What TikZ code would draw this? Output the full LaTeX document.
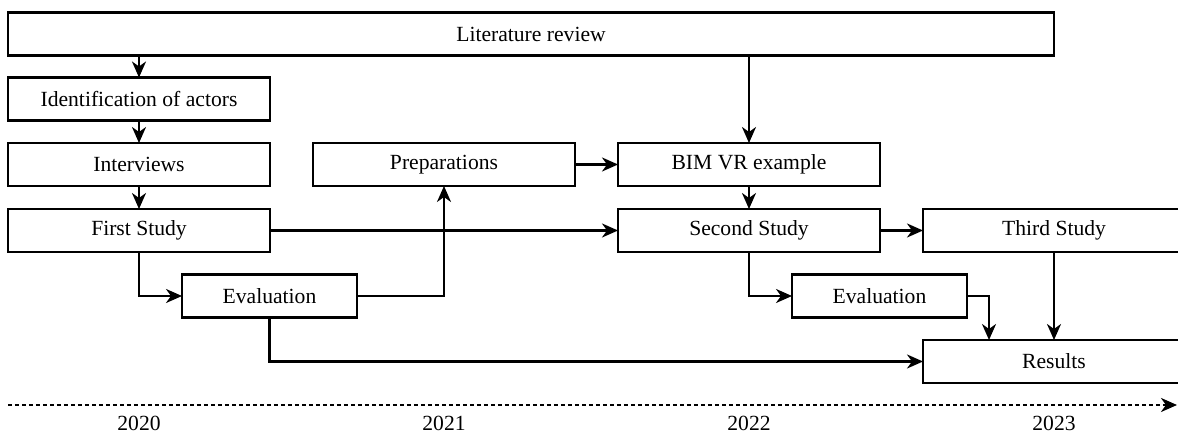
\documentclass[tikz,border=0pt]{standalone}
\usepackage{fontspec}
\setmainfont{Liberation Serif}
\usetikzlibrary{arrows.meta}

\tikzset{
  box/.style={draw, line width=1.3pt, minimum width=5.24cm, minimum height=0.86cm,
    inner sep=0pt, outer sep=0pt, font=\fontsize{12.3}{14}\selectfont},
  evalbox/.style={box, minimum width=3.5cm},
  arr/.style={-{Stealth[length=0.32cm,width=0.28cm,inset=0.1cm]}, line width=1.3pt},
  timeline/.style={arr, dash pattern=on 0.09cm off 0.05cm, line width=1.5pt},
  year/.style={font=\fontsize{12.3}{14}\selectfont}
}

\begin{document}
\begin{tikzpicture}[x=0.02cm, y=-0.02cm]

  \useasboundingbox (0,0) rectangle (1178,435);

  % --- literature review ---
  \node[box, minimum width=20.92cm] (lit) at (531,34) {Literature review};

  % --- first column ---
  \node[box] (ident)  at (139,99)    {Identification of actors};
  \node[box] (interv) at (139,164.5) {Interviews};
  \node[box] (first)  at (139,230.5) {First Study};
  \node[evalbox] (evalA) at (269.5,296) {Evaluation};

  % --- second column ---
  \node[box] (prep) at (444,164.5) {Preparations};

  % --- third column ---
  \node[box] (bim)    at (749,164.5) {BIM VR example};
  \node[box] (second) at (749,230.5) {Second Study};
  \node[evalbox] (evalB) at (879.5,296) {Evaluation};

  % --- fourth column ---
  \node[box] (third)   at (1054,230.5) {Third Study};
  \node[box] (results) at (1054,361.5) {Results};

  % --- arrows ---
  \draw[arr] (lit.south -| ident.north) -- (ident.north);
  \draw[arr] (lit.south -| bim.north) -- (bim.north);
  \draw[arr] (ident) -- (interv);
  \draw[arr] (interv) -- (first);
  \draw[arr] (first.south) |- (evalA.west);
  \draw[arr] (evalA.east) -| (prep.south);
  \draw[arr] (evalA.south) |- (results.west);
  \draw[arr] (first) -- (second);
  \draw[arr] (prep) -- (bim);
  \draw[arr] (bim) -- (second);
  \draw[arr] (second) -- (third);
  \draw[arr] (second.south) |- (evalB.west);
  \draw[arr] (evalB.east) -| ([xshift=1.32cm]results.north west);
  \draw[arr] (third) -- (results);

  % --- timeline ---
  \coordinate (tstart) at (8,405);
  \coordinate (tend) at (1177,405);
  \draw[timeline] (tstart) -- (tend);
  \node[year] (y2020) at (139,423)  {2020};
  \node[year] (y2021) at (444,423)  {2021};
  \node[year] (y2022) at (749,423)  {2022};
  \node[year] (y2023) at (1054,423) {2023};

\end{tikzpicture}
\end{document}
